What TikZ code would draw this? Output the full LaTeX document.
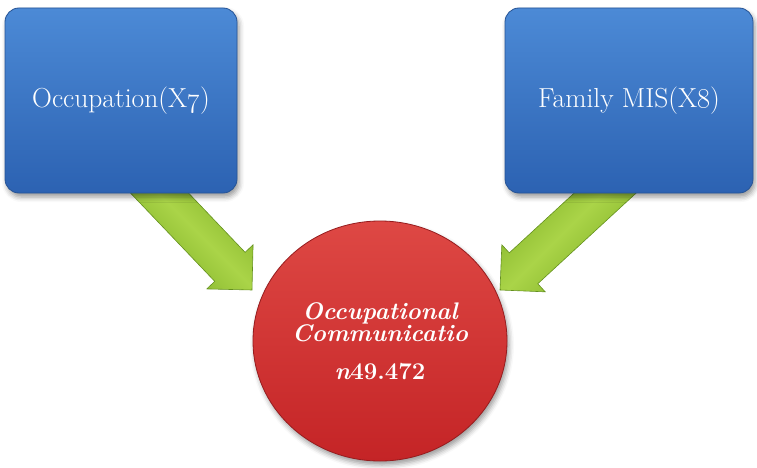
\documentclass[tikz,border=0pt]{standalone}
\usepackage{fix-cm}
\usetikzlibrary{shapes.geometric,calc,shadows.blur,backgrounds}

\definecolor{boxtop}{RGB}{76,138,214}
\definecolor{boxbot}{RGB}{44,98,178}
\definecolor{boxline}{RGB}{38,84,150}
\definecolor{balltop}{RGB}{222,72,68}
\definecolor{ballbot}{RGB}{196,36,38}
\definecolor{ballline}{RGB}{150,28,30}
\definecolor{arrmid}{RGB}{170,212,72}
\definecolor{arredge}{RGB}{120,170,32}
\definecolor{arrline}{RGB}{100,145,30}

% block arrow: #1 tip, #2 point inside the source box, #3 shading angle
\newcommand\blockarrow[3]{%
  \coordinate (ah) at ($(#1)!32pt!(#2)$);
  \path[arrowbody, shading angle=#3]
    (#1) -- ($(ah)!32pt!90:(#1)$) -- ($(ah)!21pt!90:(#1)$)
    -- ($(#2)!21pt!90:(#1)$) -- ($(#2)!21pt!-90:(#1)$)
    -- ($(ah)!21pt!-90:(#1)$) -- ($(ah)!32pt!-90:(#1)$) -- cycle;}

\begin{document}
\begin{tikzpicture}[x=1pt, y=-1pt,
  bluebox/.style={rectangle, rounded corners=14pt, draw=boxline, line width=0.8pt,
    top color=boxtop, bottom color=boxbot, text=white,
    font=\fontsize{27.5}{32}\selectfont,
    blur shadow={shadow xshift=2pt, shadow yshift=-4pt, shadow blur radius=5pt}},
  ballnode/.style={ellipse, minimum width=254pt, minimum height=240pt, inner sep=0pt,
    draw=ballline, line width=0.8pt, top color=balltop, bottom color=ballbot,
    text=white, align=center,
    font=\fontsize{24}{20}\selectfont\bfseries\itshape,
    blur shadow={shadow xshift=2pt, shadow yshift=-4pt, shadow blur radius=5pt}},
  arrowbody/.style={draw=arrline, line width=0.6pt, line join=miter,
    left color=arredge, right color=arredge, middle color=arrmid}]
\useasboundingbox (0,0) rectangle (757,468);

\node[bluebox, minimum width=232pt, minimum height=185pt] (occ) at (121,100.5)
  {Occupation(X\oldstylenums{7})};
\node[bluebox, minimum width=248pt, minimum height=185pt] (fam) at (629,100.5)
  {Family MIS(X\oldstylenums{8})};
\node[ballnode] (res) at (380,341)
  {Occupational\\Communicatio\\[18pt]n{\upshape 49.472}};

\coordinate (tipL) at ($(res.center)+(-128,-51)$);
\coordinate (tipR) at ($(res.center)+(120,-51)$);
\coordinate (backL) at ($(occ.center)+(7,59.5)$);
\coordinate (backR) at ($(fam.center)+(12,59.5)$);

\begin{scope}[on background layer]
  \blockarrow{tipL}{backL}{-45}
  \blockarrow{tipR}{backR}{45}
\end{scope}
\end{tikzpicture}
\end{document}
